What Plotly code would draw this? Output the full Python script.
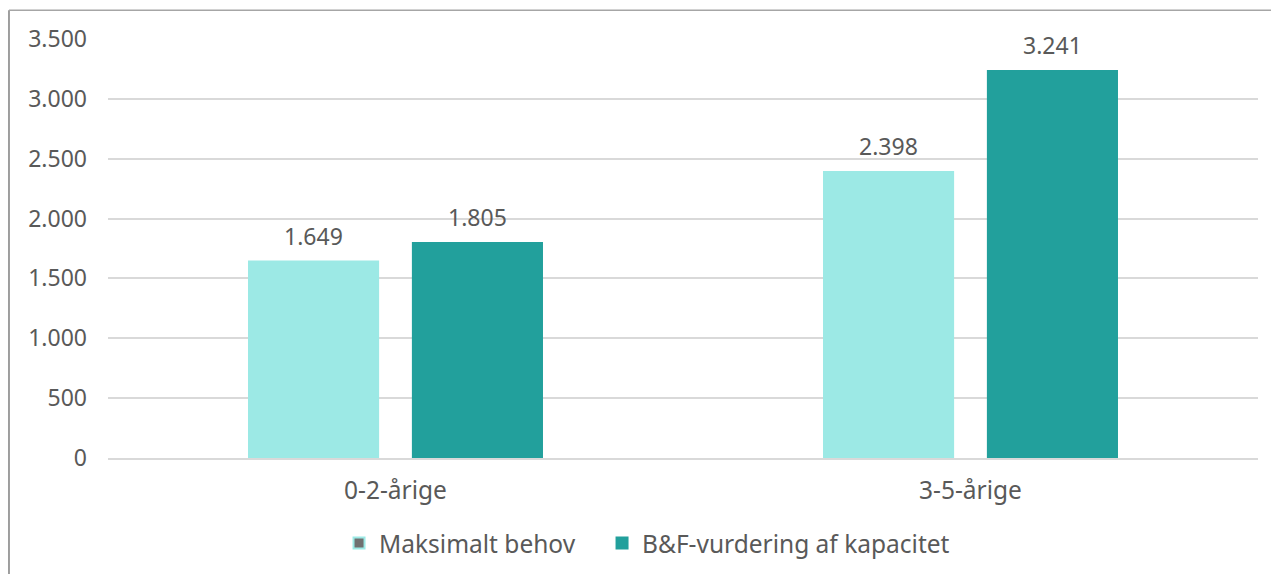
import plotly.graph_objects as go

categories = ["0-2-årige", "3-5-årige"]
series_names = ["Maksimalt behov", "B&F-vurdering af kapacitet"]
maks_behov = [1649, 2398]
bf_vurdering = [1805, 3241]
y_ticks = [0, 500, 1000, 1500, 2000, 2500, 3000, 3500]

colors = ["#9CE9E5", "#22A09C"]
text_color = "#595959"
font_family = "Noto Sans, DejaVu Sans, sans-serif"

BARGAP = 0.43
BARGROUPGAP = 0.2


def fmt(v):
    return f"{v:,}".replace(",", ".")


fig = go.Figure()
series = [maks_behov, bf_vurdering]
for name, vals, col in zip(series_names, series, colors):
    fig.add_trace(go.Bar(
        x=categories, y=vals, name=name,
        marker=dict(color=col, line=dict(width=0)),
        showlegend=False,
        hoverinfo="skip",
    ))

# value labels above bars, positioned from data via the group layout
n = len(series)
slot = (1 - BARGAP) / n
annotations = []
for si, vals in enumerate(series):
    offset = -(1 - BARGAP) / 2 + slot * (si + 0.5)
    for ci, v in enumerate(vals):
        annotations.append(dict(
            x=ci + offset, y=v, xref="x", yref="y", text=fmt(v),
            showarrow=False, yanchor="bottom", yshift=7,
            font=dict(size=23, color=text_color, family=font_family),
        ))

# legend entries (mimicking the original legend swatches), one legend each
legend_fill = ["#707070", colors[1]]
legend_line = [colors[0], colors[1]]
legend_ids = ["legend", "legend2"]
for name, fc, lc, lid in zip(series_names, legend_fill, legend_line, legend_ids):
    fig.add_trace(go.Scatter(
        x=[None], y=[None], mode="markers", name=name, legend=lid,
        marker=dict(symbol="square", size=11, color=fc, line=dict(color=lc, width=2)),
    ))

legend_common = dict(orientation="h", xanchor="left", y=-0.203, yanchor="middle",
                     font=dict(size=24.5, color=text_color), itemwidth=30,
                     bgcolor="rgba(0,0,0,0)")

fig.update_layout(
    width=1279, height=574,
    margin=dict(l=100, r=29, t=31, b=124, autoexpand=False),
    paper_bgcolor="white", plot_bgcolor="white",
    barmode="group", bargap=BARGAP, bargroupgap=BARGROUPGAP,
    separators=",.",
    font=dict(family=font_family, size=23, color=text_color),
    legend=dict(x=0.2009, **legend_common),
    legend2=dict(x=0.4296, **legend_common),
    xaxis=dict(showgrid=False, showline=True, linecolor="#D9D9D9", linewidth=1.5,
               tickfont=dict(size=24.5, color=text_color), ticks="", ticklabelstandoff=10,
               automargin=False),
    yaxis=dict(range=[0, 3500], tickvals=y_ticks,
               ticktext=[fmt(v) for v in y_ticks],
               showgrid=True, gridcolor="#D9D9D9", gridwidth=1.5, zeroline=False,
               showline=False, tickfont=dict(size=23, color=text_color), ticks="",
               ticklabelstandoff=20, automargin=False),
    annotations=annotations,
    shapes=[
        dict(type="line", xref="paper", yref="paper", x0=-0.0861, x1=-0.0861, y0=1.0685, y1=-0.3,
             line=dict(color="#7F7F7F", width=1.5)),
        dict(type="line", xref="paper", yref="paper", x0=-0.0861, x1=1.03, y0=1.0685, y1=1.0685,
             line=dict(color="#A6A6A6", width=1.5)),
    ],
)

fig.write_html("out.html")
